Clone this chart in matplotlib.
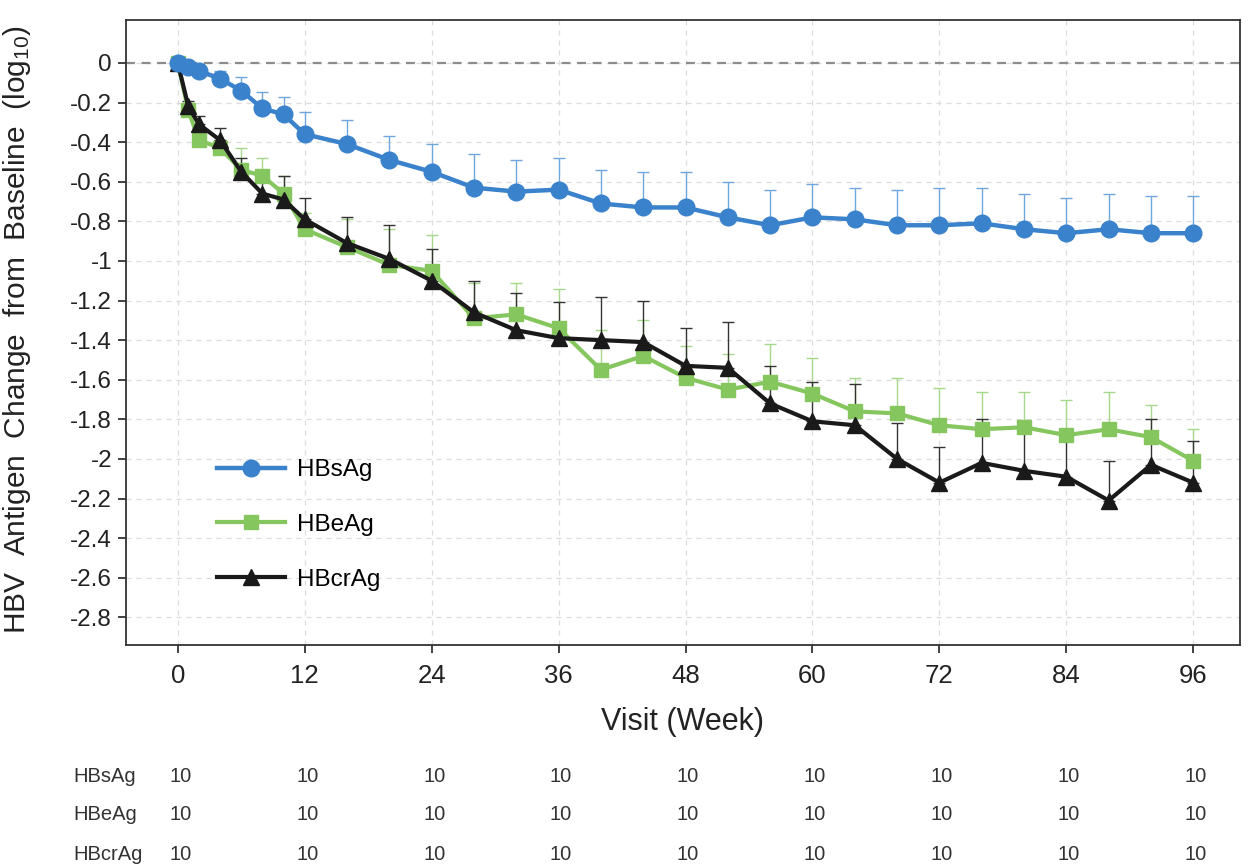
import numpy as np
import matplotlib
matplotlib.use('Agg')
import matplotlib.pyplot as plt

plt.rcParams['font.family'] = ['Liberation Sans', 'DejaVu Sans']
plt.rcParams['mathtext.fontset'] = 'custom'
plt.rcParams['mathtext.rm'] = 'Liberation Sans'

# visit weeks
weeks = [0, 1, 2, 4, 6, 8, 10, 12, 16, 20, 24, 28, 32, 36, 40, 44, 48,
         52, 56, 60, 64, 68, 72, 76, 80, 84, 88, 92, 96]

# mean change from baseline (log10)
hbsag = [0, -0.02, -0.04, -0.08, -0.14, -0.23, -0.26, -0.36, -0.41, -0.49, -0.55,
         -0.63, -0.65, -0.64, -0.71, -0.73, -0.73, -0.78, -0.82, -0.78, -0.79,
         -0.82, -0.82, -0.81, -0.84, -0.86, -0.84, -0.86, -0.86]
hbsag_err = [0, 0.01, 0.02, 0.04, 0.07, 0.085, 0.09, 0.11, 0.12, 0.12, 0.14,
             0.17, 0.16, 0.16, 0.17, 0.18, 0.18, 0.18, 0.18, 0.17, 0.16,
             0.18, 0.19, 0.18, 0.18, 0.18, 0.18, 0.19, 0.19]

hbeag = [0, -0.24, -0.39, -0.43, -0.54, -0.57, -0.66, -0.84, -0.93, -1.02, -1.05,
         -1.29, -1.27, -1.34, -1.55, -1.48, -1.59, -1.65, -1.61, -1.67, -1.76,
         -1.77, -1.83, -1.85, -1.84, -1.88, -1.85, -1.89, -2.01]
hbeag_err = [0, 0.03, 0.04, 0.04, 0.11, 0.09, 0.09, 0.08, 0.14, 0.18, 0.18,
             0.18, 0.16, 0.20, 0.20, 0.18, 0.16, 0.18, 0.19, 0.18, 0.17,
             0.18, 0.19, 0.19, 0.18, 0.18, 0.19, 0.16, 0.16]

hbcrag = [0, -0.22, -0.31, -0.39, -0.55, -0.66, -0.69, -0.79, -0.91, -0.99, -1.10,
          -1.26, -1.35, -1.39, -1.40, -1.41, -1.53, -1.54, -1.72, -1.81, -1.83,
          -2.00, -2.12, -2.02, -2.06, -2.09, -2.21, -2.03, -2.12]
hbcrag_err = [0, 0.03, 0.04, 0.06, 0.07, 0.12, 0.12, 0.11, 0.13, 0.17, 0.16,
              0.16, 0.19, 0.18, 0.22, 0.21, 0.19, 0.23, 0.19, 0.20, 0.21,
              0.18, 0.18, 0.22, 0.20, 0.20, 0.20, 0.23, 0.21]

# number of subjects table
n_weeks = [0, 12, 24, 36, 48, 60, 72, 84, 96]
n_rows = ['HBsAg', 'HBeAg', 'HBcrAg']
n_vals = [[10] * 9, [10] * 9, [10] * 9]

blue = '#3a82cc'
green = '#86c65f'
black = '#1a1a1a'

fig = plt.figure(figsize=(12.53, 8.67), dpi=100)
ax = fig.add_axes([0.1005, 0.256, 0.889, 0.721])

ax.axhline(0, color='#8c8c8c', lw=1.6, ls=(0, (4, 3)), zorder=1)

ax.errorbar(weeks, hbeag, yerr=[np.zeros(len(weeks)), hbeag_err], fmt='none',
            ecolor='#a6d88c', elinewidth=1.0, capsize=4, capthick=1.0, zorder=2)
ax.errorbar(weeks, hbcrag, yerr=[np.zeros(len(weeks)), hbcrag_err], fmt='none',
            ecolor='#333333', elinewidth=1.0, capsize=4, capthick=1.0, zorder=2)
ax.errorbar(weeks, hbsag, yerr=[np.zeros(len(weeks)), hbsag_err], fmt='none',
            ecolor='#6fa6dd', elinewidth=1.0, capsize=4, capthick=1.0, zorder=2)

l2, = ax.plot(weeks, hbeag, color=green, lw=3, marker='s', ms=10, zorder=3, label='HBeAg')
l3, = ax.plot(weeks, hbcrag, color=black, lw=3, marker='^', ms=11, zorder=4, label='HBcrAg')
l1, = ax.plot(weeks, hbsag, color=blue, lw=3.2, marker='o', ms=12, zorder=5, label='HBsAg')

ax.set_xlim(-4.9, 100.4)
ax.set_ylim(-2.94, 0.217)
ax.set_xticks(n_weeks)
yt = np.round(np.arange(0, -2.81, -0.2), 1)
ax.set_yticks(yt)
ax.set_yticklabels(['0' if v == 0 else ('%g' % v) for v in yt])
ax.tick_params(axis='both', labelsize=17.5, direction='out', length=6, width=1.3,
               color='#333333', labelcolor='#222222')
ax.tick_params(axis='x', labelsize=18.5, pad=8)
ax.tick_params(axis='y', pad=4)
ax.grid(True, color='#dcdcdc', ls=(0, (4, 4)), lw=0.9)
ax.set_axisbelow(True)
for s in ax.spines.values():
    s.set_color('#333333')
    s.set_linewidth(1.3)

ax.set_xlabel('Visit (Week)', fontsize=22, labelpad=13, color='#222222')
ax.set_ylabel('HBV  Antigen  Change  from  Baseline  (log$\\mathregular{_{10}}$)',
              fontsize=21.5, color='#222222')
ax.yaxis.set_label_coords(-0.083, 0.505)

ax.legend(handles=[l1, l2, l3], loc='lower left', bbox_to_anchor=(0.062, 0.052),
          frameon=False, fontsize=17.5, handlelength=2.8, labelspacing=1.35,
          handletextpad=0.5)

# number of subjects below the axis
row_y = [776, 815, 854]
for name, vals, py in zip(n_rows, n_vals, row_y):
    fy = 1 - py / 867
    fig.text(73 / 1253, fy, name, fontsize=14.5, va='center', ha='left', color='#333333')
    for w, v in zip(n_weeks, vals):
        xd = ax.transData.transform((w, 0))[0]
        xf = fig.transFigure.inverted().transform((xd, 0))[0]
        fig.text(xf + 0.002, fy, str(v), fontsize=14.5, va='center', ha='center', color='#333333')

fig.savefig('out.png', dpi=100)
